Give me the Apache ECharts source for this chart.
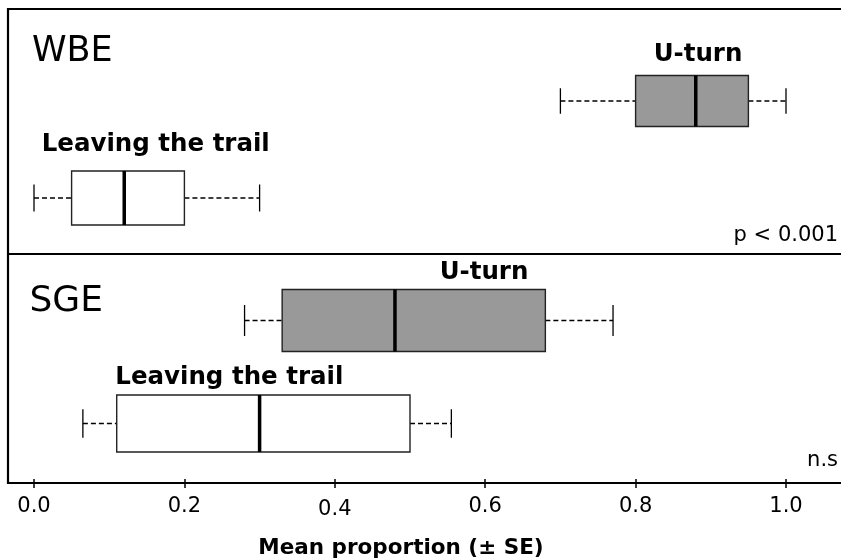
<!DOCTYPE html>
<html>
<head>
<meta charset="utf-8">
<script src="https://cdn.jsdelivr.net/npm/echarts@6/dist/echarts.min.js"></script>
<style>html,body{margin:0;padding:0;background:#fff}#c{width:841px;height:560px}</style>
</head>
<body>
<div id="c"></div>
<script>
// ---- data ----
const panels = ['WBE', 'SGE'];
const groups = ['U-turn', 'Leaving the trail'];
// [min, Q1, median, Q3, max]
const wbeUturn   = [0.70, 0.80, 0.88, 0.95, 1.00];
const wbeLeaving = [0.00, 0.05, 0.12, 0.20, 0.30];
const sgeUturn   = [0.28, 0.33, 0.48, 0.68, 0.77];
const sgeLeaving = [0.065, 0.11, 0.30, 0.50, 0.555];
const xTickLabels = ['0.0', '0.2', '0.4', '0.6', '0.8', '1.0'];
const pLabels = ['p < 0.001', 'n.s'];
const xTitle = 'Mean proportion (\u00b1 SE)';

// ---- rendering ----
const FONT = 'DejaVu Sans';
const fills = ['#999999', '#ffffff'];

function makeRender(boxHs) {
  return function (params, api) {
    const cat = api.value(0);
    const y = api.coord([0, cat])[1];
    const xs = [1, 2, 3, 4, 5].map(i => api.coord([api.value(i), cat])[0]);
    const h = boxHs[cat], c = h / 2;
    const dash = { stroke: '#000', lineWidth: 1.3, lineDash: [5, 3] };
    const solid = { stroke: '#000', lineWidth: 1.3 };
    return {
      type: 'group',
      children: [
        { type: 'line', shape: { x1: xs[0], y1: y, x2: xs[1], y2: y }, style: dash },
        { type: 'line', shape: { x1: xs[3], y1: y, x2: xs[4], y2: y }, style: dash },
        { type: 'line', shape: { x1: xs[0], y1: y - c / 2, x2: xs[0], y2: y + c / 2 }, style: solid },
        { type: 'line', shape: { x1: xs[4], y1: y - c / 2, x2: xs[4], y2: y + c / 2 }, style: solid },
        { type: 'rect', shape: { x: xs[1], y: y - h / 2, width: xs[3] - xs[1], height: h },
          style: { fill: fills[cat], stroke: '#222', lineWidth: 1.4 } },
        { type: 'line', shape: { x1: xs[2], y1: y - h / 2, x2: xs[2], y2: y + h / 2 },
          style: { stroke: '#000', lineWidth: 3.5 } }
      ]
    };
  };
}

function rows(a, b) {
  return [[0].concat(a), [1].concat(b)];
}

const chart = echarts.init(document.getElementById('c'), null, { renderer: 'canvas' });
chart.setOption({
  backgroundColor: '#ffffff',
  animation: false,
  grid: [
    { left: 34, right: 55, top: 52.5, height: 194 },
    { left: 34, right: 55, top: 269, height: 210 }
  ],
  xAxis: [
    { type: 'value', gridIndex: 0, min: 0, max: 1, interval: 0.2, show: false },
    {
      type: 'value', gridIndex: 1, min: 0, max: 1, interval: 0.2, offset: 4,
      axisLine: { show: false },
      axisTick: { show: true, length: 9, lineStyle: { color: '#000', width: 1.5 } },
      splitLine: { show: false },
      axisLabel: {
        margin: 17, color: '#000', fontFamily: FONT, fontSize: 21,
        formatter: function (v) {
          const i = Math.round(v / 0.2);
          const t = xTickLabels[i];
          return i === 2 ? '{lo|' + t + '}' : t;
        },
        rich: { lo: { fontFamily: FONT, fontSize: 21, color: '#000', padding: [3.5, 0, 0, 0] } }
      },
      name: xTitle, nameLocation: 'middle', nameGap: 58,
      nameTextStyle: { fontFamily: FONT, fontSize: 21.5, fontWeight: 'bold', color: '#000', padding: [0, 18, 0, 0] }
    }
  ],
  yAxis: [
    { type: 'category', gridIndex: 0, data: groups, inverse: true, show: false },
    { type: 'category', gridIndex: 1, data: groups, inverse: true, show: false }
  ],
  series: [
    { type: 'custom', xAxisIndex: 0, yAxisIndex: 0, renderItem: makeRender([51, 54]),
      encode: { x: [1, 2, 3, 4, 5], y: 0 }, data: rows(wbeUturn, wbeLeaving) },
    { type: 'custom', xAxisIndex: 1, yAxisIndex: 1, renderItem: makeRender([62, 57]),
      encode: { x: [1, 2, 3, 4, 5], y: 0 }, data: rows(sgeUturn, sgeLeaving) }
  ],
  graphic: [
    { type: 'rect', shape: { x: 8, y: 9, width: 900, height: 474 }, style: { fill: null, stroke: '#000', lineWidth: 2.2 }, z: 10 },
    { type: 'line', shape: { x1: 8, y1: 254, x2: 900, y2: 254 }, style: { stroke: '#000', lineWidth: 2.2 }, z: 10 },
    { type: 'text', x: 32, y: 52, style: { text: panels[0], font: '35px "DejaVu Sans"', fill: '#000', verticalAlign: 'middle' } },
    { type: 'text', x: 29.5, y: 302, style: { text: panels[1], font: '36px "DejaVu Sans"', fill: '#000', verticalAlign: 'middle' } },
    { type: 'text', x: 698, y: 55, style: { text: groups[0], font: 'bold 24.5px "DejaVu Sans"', fill: '#000', align: 'center', verticalAlign: 'middle' } },
    { type: 'text', x: 41.7, y: 145, style: { text: groups[1], font: 'bold 24.5px "DejaVu Sans"', fill: '#000', verticalAlign: 'middle' } },
    { type: 'text', x: 484, y: 273, style: { text: groups[0], font: 'bold 24.5px "DejaVu Sans"', fill: '#000', align: 'center', verticalAlign: 'middle' } },
    { type: 'text', x: 115.3, y: 378, style: { text: groups[1], font: 'bold 24.5px "DejaVu Sans"', fill: '#000', verticalAlign: 'middle' } },
    { type: 'text', x: 838, y: 236, style: { text: pLabels[0], font: '21px "DejaVu Sans"', fill: '#000', align: 'right', verticalAlign: 'middle' } },
    { type: 'text', x: 838, y: 461, style: { text: pLabels[1], font: '21px "DejaVu Sans"', fill: '#000', align: 'right', verticalAlign: 'middle' } }
  ]
});
</script>
</body>
</html>
